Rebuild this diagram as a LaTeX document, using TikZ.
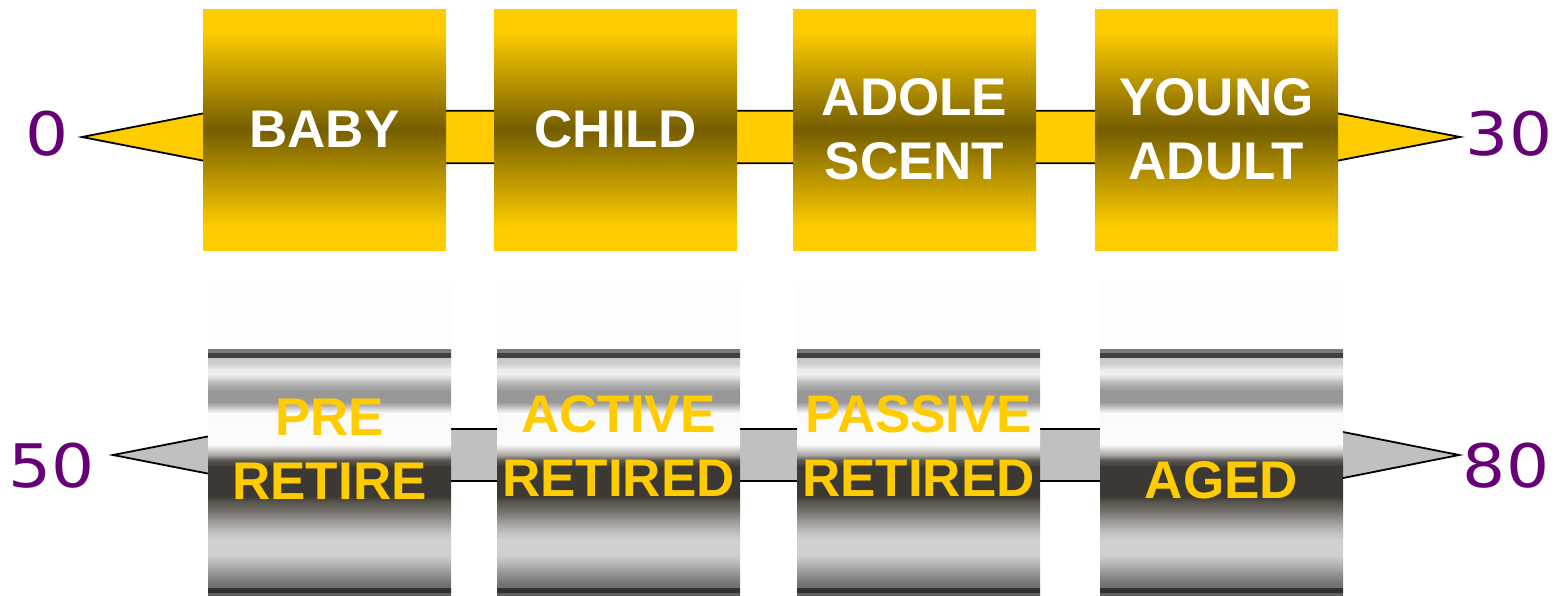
\documentclass[tikz,border=0pt]{standalone}
\usepackage{fontspec}
\setmainfont{Liberation Sans}
\newfontfamily\numfont{DejaVu Sans}

\definecolor{gold}{RGB}{255,204,0}
\definecolor{golddark}{RGB}{116,93,0}
\definecolor{agepurple}{RGB}{102,0,119}
\definecolor{silver}{RGB}{192,192,192}
\definecolor{paper}{RGB}{253,253,251}

% gold bar: bright at the ends, dark olive in the middle
\pgfdeclareverticalshading{goldshade}{100bp}{%
  color(0bp)=(gold); color(29.8bp)=(gold); color(50bp)=(golddark);
  color(70.2bp)=(gold); color(100bp)=(gold)}

% banded metal cylinder (bottom edge at 25bp, top edge at 75bp)
\pgfdeclareverticalshading{metalshade}{100bp}{%
  rgb(0bp)=(0.376,0.376,0.376);
  rgb(25bp)=(0.376,0.376,0.376);
  rgb(25.41bp)=(0.376,0.376,0.376);
  rgb(25.61bp)=(0.188,0.188,0.188);
  rgb(26.42bp)=(0.188,0.188,0.188);
  rgb(26.63bp)=(0.431,0.431,0.431);
  rgb(27.64bp)=(0.471,0.471,0.471);
  rgb(29.67bp)=(0.596,0.596,0.596);
  rgb(31.50bp)=(0.722,0.722,0.722);
  rgb(33.13bp)=(0.816,0.816,0.816);
  rgb(36.18bp)=(0.816,0.816,0.816);
  rgb(37.80bp)=(0.753,0.753,0.753);
  rgb(39.84bp)=(0.630,0.612,0.596);
  rgb(41.87bp)=(0.470,0.455,0.430);
  rgb(43.90bp)=(0.345,0.330,0.306);
  rgb(45.12bp)=(0.235,0.220,0.204);
  rgb(51.02bp)=(0.235,0.220,0.204);
  rgb(52.44bp)=(0.360,0.345,0.330);
  rgb(53.46bp)=(0.660,0.643,0.627);
  rgb(54.47bp)=(0.816,0.800,0.784);
  rgb(55.28bp)=(0.940,0.940,0.940);
  rgb(55.89bp)=(0.990,0.990,0.990);
  rgb(61.99bp)=(0.980,0.980,0.980);
  rgb(62.80bp)=(0.843,0.843,0.843);
  rgb(63.62bp)=(0.690,0.690,0.690);
  rgb(64.23bp)=(0.596,0.596,0.596);
  rgb(66.46bp)=(0.596,0.596,0.596);
  rgb(67.48bp)=(0.667,0.667,0.667);
  rgb(68.50bp)=(0.765,0.765,0.765);
  rgb(69.31bp)=(0.878,0.878,0.878);
  rgb(69.92bp)=(0.941,0.941,0.941);
  rgb(70.93bp)=(0.922,0.922,0.922);
  rgb(71.54bp)=(0.847,0.847,0.847);
  rgb(72.15bp)=(0.804,0.804,0.804);
  rgb(73.17bp)=(0.784,0.784,0.784);
  rgb(73.37bp)=(0.251,0.251,0.251);
  rgb(74.19bp)=(0.251,0.251,0.251);
  rgb(74.39bp)=(0.478,0.478,0.478);
  rgb(75bp)=(0.478,0.478,0.478);
  rgb(100bp)=(0.478,0.478,0.478)}

% wide age numerals
\newcommand{\agenum}[1]{\scalebox{1.13}[1]{#1}}

\tikzset{
  arrowline/.style={draw=black, line width=1.8pt, line join=miter},
  youngbox/.style={shade, shading=goldshade, minimum width=243pt,
    minimum height=241pt, inner sep=0pt, text=white, align=center,
    font=\bfseries\fontsize{53}{64}\selectfont},
  metalbox/.style={shade, shading=metalshade, minimum width=243pt,
    minimum height=246pt, inner sep=0pt},
  capbox/.style={fill=paper, minimum width=243pt, minimum height=67pt,
    inner sep=0pt},
  oldtext/.style={text=gold, align=center, inner sep=0pt,
    font=\bfseries\fontsize{53}{64}\selectfont},
  agelabel/.style={text=agepurple, inner sep=0pt,
    font=\numfont\fontsize{60}{72}\selectfont},
}

\begin{document}
\begin{tikzpicture}[x=1pt, y=-1pt]
\useasboundingbox (0,0) rectangle (1557,595);

% ---- first row: birth to 30 ----
\coordinate (tl) at (82,137);
\coordinate (tr) at (1460,137);
\draw[arrowline, fill=gold] (tl) -- (217,110.7) -- (1324,110.7) -- (tr)
  -- (1324,163.3) -- (217,163.3) -- cycle;

\node[youngbox] (baby)  at (324.5,129.5) {BABY};
\node[youngbox] (child) at (615.5,129.5) {CHILD};
\node[youngbox] (adole) at (914.5,129.5) {ADOLE\\SCENT};
\node[youngbox] (young) at (1216.5,129.5) {YOUNG\\ADULT};

\node[agelabel] (a0)  at (47.5,134) {\agenum{0}};
\node[agelabel] (a30) at (1509,134) {\agenum{30}};

% ---- second row: 50 to 80 ----
\coordinate (bl) at (113,455);
\coordinate (br) at (1459,455);
\draw[arrowline, fill=silver] (bl) -- (246,429) -- (1328,429) -- (br)
  -- (1328,481) -- (246,481) -- cycle;

\foreach \n/\x in {pre/329.5, active/618.5, passive/918.5, aged/1221.5}{
  \node[capbox]   (\n top) at (\x,315.5) {};
  \node[metalbox] (\n box) at (\x,472) {};
}

\node[oldtext] (pretxt)     at (329.5,449)  {PRE\\RETIRE};
\node[oldtext] (activetxt)  at (618.5,446)  {ACTIVE\\RETIRED};
\node[oldtext] (passivetxt) at (918.5,446)  {PASSIVE\\RETIRED};
\node[oldtext] (agedtxt)    at (1221.5,480.5) {AGED};

\node[agelabel] (a50) at (52,466) {\agenum{50}};
\node[agelabel] (a80) at (1506,466) {\agenum{80}};
\end{tikzpicture}
\end{document}
